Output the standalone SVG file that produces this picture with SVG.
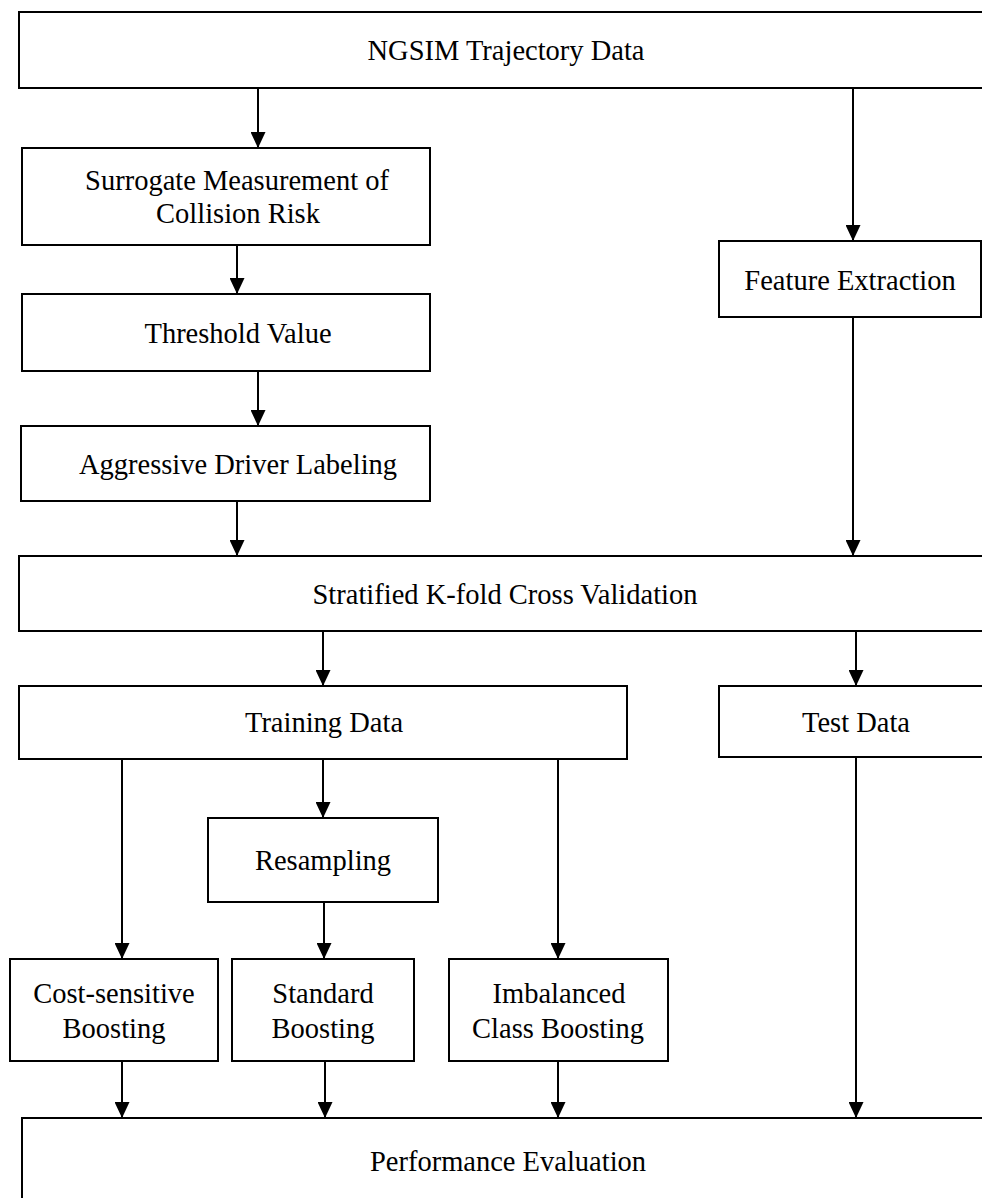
<svg xmlns="http://www.w3.org/2000/svg" width="982" height="1198" viewBox="0 0 982 1198">
<style>
.box{fill:#fff;stroke:#000;stroke-width:2}
.t{font-family:"Liberation Serif","Times New Roman",serif;font-size:28.5px;fill:#000;text-anchor:middle}
.c{stroke:#000;stroke-width:2;fill:none;marker-end:url(#ah)}
</style>
<defs>
<marker id="ah" markerUnits="userSpaceOnUse" markerWidth="16" markerHeight="15" refX="16" refY="7.5" orient="auto" viewBox="0 0 16 15">
<path d="M0,0 L16,7.5 L0,15 Z" fill="#000"/>
</marker>
</defs>
<rect width="982" height="1198" fill="#fff"/>
<g id="connectors">
<line class="c" x1="258" y1="88" x2="258" y2="148"/>
<line class="c" x1="853" y1="88" x2="853" y2="241"/>
<line class="c" x1="237" y1="245" x2="237" y2="294"/>
<line class="c" x1="258" y1="371" x2="258" y2="426"/>
<line class="c" x1="237" y1="501" x2="237" y2="556"/>
<line class="c" x1="853" y1="317" x2="853" y2="556"/>
<line class="c" x1="323" y1="631" x2="323" y2="686"/>
<line class="c" x1="856" y1="631" x2="856" y2="686"/>
<line class="c" x1="122" y1="759" x2="122" y2="959"/>
<line class="c" x1="323" y1="759" x2="323" y2="818"/>
<line class="c" x1="558" y1="759" x2="558" y2="959"/>
<line class="c" x1="324" y1="902" x2="324" y2="959"/>
<line class="c" x1="122" y1="1061" x2="122" y2="1118"/>
<line class="c" x1="325" y1="1061" x2="325" y2="1118"/>
<line class="c" x1="558" y1="1061" x2="558" y2="1118"/>
<line class="c" x1="856" y1="757" x2="856" y2="1118"/>
</g>
<g id="ngsim"><rect class="box" x="19" y="12" width="990" height="76"/><text class="t" x="506" y="60">NGSIM Trajectory Data</text></g>
<g id="surrogate"><rect class="box" x="22" y="148" width="408" height="97"/><text class="t" x="237" y="190">Surrogate Measurement of</text><text class="t" x="238" y="223">Collision Risk</text></g>
<g id="feature"><rect class="box" x="719" y="241" width="262" height="76"/><text class="t" x="850" y="290">Feature Extraction</text></g>
<g id="threshold"><rect class="box" x="22" y="294" width="408" height="77"/><text class="t" x="238" y="343">Threshold Value</text></g>
<g id="aggressive"><rect class="box" x="21" y="426" width="409" height="75"/><text class="t" x="238" y="474">Aggressive Driver Labeling</text></g>
<g id="stratified"><rect class="box" x="19" y="556" width="990" height="75"/><text class="t" x="505" y="604">Stratified K-fold Cross Validation</text></g>
<g id="training"><rect class="box" x="19" y="686" width="608" height="73"/><text class="t" x="324" y="732">Training Data</text></g>
<g id="test"><rect class="box" x="719" y="686" width="290" height="71"/><text class="t" x="856" y="732">Test Data</text></g>
<g id="resampling"><rect class="box" x="208" y="818" width="230" height="84"/><text class="t" x="323" y="870">Resampling</text></g>
<g id="costsensitive"><rect class="box" x="10" y="959" width="208" height="102"/><text class="t" x="114" y="1003">Cost-sensitive</text><text class="t" x="114" y="1038">Boosting</text></g>
<g id="standard"><rect class="box" x="232" y="959" width="182" height="102"/><text class="t" x="323" y="1003">Standard</text><text class="t" x="323" y="1038">Boosting</text></g>
<g id="imbalanced"><rect class="box" x="449" y="959" width="219" height="102"/><text class="t" x="559" y="1003">Imbalanced</text><text class="t" x="558" y="1038">Class Boosting</text></g>
<g id="performance"><rect class="box" x="22" y="1118" width="990" height="100"/><text class="t" x="508" y="1171">Performance Evaluation</text></g>
</svg>
